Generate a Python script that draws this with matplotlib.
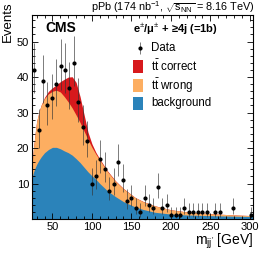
import numpy as np
import matplotlib
matplotlib.use('Agg')
import matplotlib.pyplot as plt
from matplotlib.patches import Rectangle
from matplotlib.ticker import MultipleLocator

plt.rcParams['font.family'] = ['Liberation Sans', 'DejaVu Sans']
plt.rcParams['mathtext.fontset'] = 'custom'
plt.rcParams['mathtext.rm'] = 'Liberation Sans'
plt.rcParams['mathtext.it'] = 'Liberation Sans:italic'
plt.rcParams['mathtext.bf'] = 'Liberation Sans:bold'

# data points (bin centres 26.8 + 5.6*i, zero bins left out)
data_x = [26.8, 32.4, 38.0, 43.6, 49.2, 54.8, 60.4, 66.0, 71.6, 77.2,
          82.8, 88.4, 94.0, 99.6, 105.2, 110.8, 116.4, 122.0, 127.6, 133.2,
          138.8, 144.4, 150.0, 155.6, 161.2, 166.8, 172.4, 178.0, 183.6, 189.2,
          194.8, 200.4, 206.0, 211.6, 217.2, 222.8, 228.4, 234.0, 239.6, 245.2,
          256.4, 262.0, 278.8, 301.2]
data_y = [42, 25, 39, 32, 34, 38, 43, 42, 37, 44,
          33, 26, 22, 10, 12, 17, 14, 8, 10, 16,
          11, 5, 6, 3, 2, 6, 4, 3, 9, 3,
          4, 1, 1, 1, 3, 2, 2, 2, 2, 2,
          2, 2, 3, 1]

# stacked template curves (tops of each layer)
curve_x = [24, 26, 28, 30, 33, 36, 40, 45, 50, 55, 60, 65, 70, 75, 80, 85, 90, 95,
           100, 105, 110, 120, 130, 140, 155, 165, 180, 200, 220, 250, 280, 304]
bkg_top = [11.5, 13.2, 14.4, 15.4, 16.6, 17.6, 18.7, 19.6, 20.2, 20.2, 19.8, 19.2,
           18.7, 18.0, 17.0, 15.9, 14.6, 13.3, 12.2, 11.2, 10.0, 7.9, 6.3, 4.9,
           3.4, 2.7, 1.9, 1.4, 1.15, 0.95, 0.8, 0.7]
wrong_top = [15, 20, 24, 27.5, 30.3, 32.2, 34.0, 35.3, 36.0, 36.3, 35.8, 34.5,
             33.0, 31.3, 29.3, 27.2, 24.8, 22.4, 20.2, 18.3, 16.6, 13.3, 10.6, 8.5,
             6.0, 4.9, 3.7, 2.6, 2.0, 1.5, 1.15, 0.95]
correct_top = [15, 20, 24, 27.5, 30.3, 32.3, 34.3, 36.0, 37.0, 37.8, 38.7, 39.4,
               40.0, 40.1, 38.5, 34.5, 29.5, 24.5, 21.2, 18.8, 16.9, 13.5, 10.75, 8.6,
               6.05, 4.95, 3.73, 2.62, 2.02, 1.52, 1.16, 0.96]

c_red = '#d7191c'
c_orange = '#fdae61'
c_blue = '#2b83ba'

def poisson_err(n):
    n = np.asarray(n, dtype=float)
    lo = n - n * (1 - 1 / (9 * n) - 1 / (3 * np.sqrt(n))) ** 3
    up = (n + 1) * (1 - 1 / (9 * (n + 1)) + 1 / (3 * np.sqrt(n + 1))) ** 3 - n
    return lo, up

fig = plt.figure(figsize=(2.66, 2.58), dpi=100)
ax = fig.add_axes([0.120, 0.151, 0.831, 0.791])

ax.fill_between(curve_x, 0, correct_top, color=c_red, lw=0)
ax.fill_between(curve_x, 0, wrong_top, color=c_orange, lw=0)
ax.fill_between(curve_x, 0, bkg_top, color=c_blue, lw=0)

lo, up = poisson_err(data_y)
ax.errorbar(data_x, data_y, yerr=[lo, up], fmt='o', color='black', ms=2.0,
            elinewidth=0.45, ecolor='#333333', capsize=0, zorder=5)

ax.set_xlim(24, 304)
ax.set_ylim(0, 57.5)
ax.set_yticks([10, 20, 30, 40, 50])
ax.xaxis.set_major_locator(MultipleLocator(50))
ax.xaxis.set_minor_locator(MultipleLocator(10))
ax.yaxis.set_minor_locator(MultipleLocator(2))
ax.tick_params(which='both', direction='in', top=True, right=True, labelsize=8, width=0.6)
ax.tick_params(which='major', length=4, pad=2)
ax.tick_params(which='minor', length=2)
for s in ax.spines.values():
    s.set_linewidth(0.8)

ax.set_xlabel(r"m$_{\mathrm{jj'}}$ [GeV]", fontsize=10, loc='right', labelpad=0)
fig.text(0.03, 0.995, 'Events', rotation=90, ha='center', va='top', fontsize=9.5)
fig.text(0.958, 0.972, r"pPb (174 nb$^{-1}$, $\sqrt{\mathrm{s_{NN}}}$ = 8.16 TeV)",
         ha='right', va='center', fontsize=7.8)

ax.text(0.059, 0.935, 'CMS', transform=ax.transAxes, fontsize=10, fontweight='bold',
        ha='left', va='center')

# legend
ax.text(0.456, 0.930, r"e$^{\pm}$/μ$^{\pm}$ + ≥4j (=1b)", transform=ax.transAxes,
        fontsize=8, fontweight='bold', ha='left', va='center')
ax.errorbar([0.489], [0.837], yerr=[[0.03], [0.03]], fmt='o', color='black', ms=2.0,
            elinewidth=0.45, ecolor='#333333', capsize=0, transform=ax.transAxes, clip_on=False)
ax.text(0.538, 0.837, 'Data', transform=ax.transAxes, fontsize=8.3, ha='left', va='center')
labels = [r"t$\bar{\mathrm{t}}$ correct", r"t$\bar{\mathrm{t}}$ wrong", 'background']
colors = [c_red, c_orange, c_blue]
ys = [0.749, 0.654, 0.567]
for lab, col, yy in zip(labels, colors, ys):
    ax.add_patch(Rectangle((0.456, yy - 0.032), 0.048, 0.064, transform=ax.transAxes,
                           facecolor=col, edgecolor='none'))
    ax.text(0.538, yy, lab, transform=ax.transAxes, fontsize=8.3, ha='left', va='center')

fig.savefig('out.png', dpi=100)
